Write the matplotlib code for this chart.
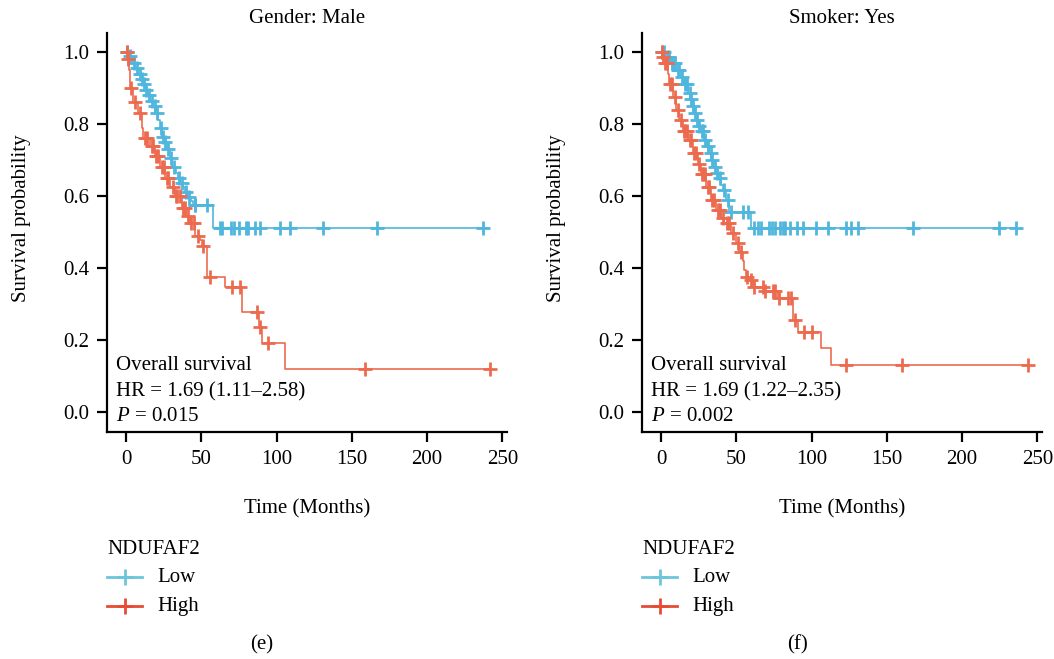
import numpy as np
import matplotlib
matplotlib.use("Agg")
import matplotlib.pyplot as plt
from matplotlib.lines import Line2D

plt.rcParams['font.family'] = ['Liberation Serif', 'DejaVu Serif']
plt.rcParams['mathtext.fontset'] = 'custom'
plt.rcParams['mathtext.rm'] = 'Liberation Serif'
plt.rcParams['mathtext.it'] = 'Liberation Serif:italic'

BLUE = '#4FB6DE'
RED = '#EC6B4F'
LEG_BLUE = '#6CC5DC'
LEG_RED = '#E64B35'

# ---------------- Panel (e): Gender: Male ----------------
e_low_t = [0, 2, 4, 6, 8, 10, 11.5, 13, 14.6, 16, 18, 19.5, 21.3, 22.5, 24, 25.5, 27, 29,
           30.5, 33, 34.6, 36, 38, 39.5, 41, 43, 44.5, 58]
e_low_s = [1.0, 0.99, 0.97, 0.955, 0.94, 0.925, 0.91, 0.895, 0.88, 0.865, 0.85, 0.83, 0.81,
           0.79, 0.765, 0.75, 0.73, 0.705, 0.68, 0.665, 0.65, 0.635, 0.625, 0.61, 0.597,
           0.585, 0.575, 0.51]
e_low_end = 240
e_low_cens = [1, 3, 5, 7, 9, 10.5, 12, 13.5, 15, 17, 19, 20.5, 23, 24.5, 26, 28, 30, 32,
              35, 37, 40, 42, 45.5, 46, 54, 62.5, 64, 69.8, 71.8, 75, 79.8, 81, 86, 89,
              102, 109, 131, 167, 237]

e_high_t = [0, 1, 2, 2.7, 4.8, 8, 10.6, 11.5, 16, 19, 22.6, 26, 29, 32.6, 37, 40, 42.5, 46,
            49, 50.5, 54, 66, 77, 88, 90, 105.7]
e_high_s = [1.0, 0.98, 0.95, 0.90, 0.86, 0.83, 0.79, 0.76, 0.74, 0.71, 0.68, 0.65, 0.625,
            0.60, 0.566, 0.545, 0.525, 0.49, 0.478, 0.46, 0.375, 0.348, 0.278, 0.237, 0.19,
            0.12]
e_high_end = 242
e_high_cens = [0.5, 1.5, 3.5, 6, 9, 12.5, 14, 17, 18, 20, 21, 24, 25, 27, 28, 31, 33, 34,
               36, 38, 39, 41, 43.5, 45, 47.5, 51, 56, 70.5, 76, 87, 89, 94, 159, 242]

# ---------------- Panel (f): Smoker: Yes ----------------
f_low_t = [0, 3, 6.6, 10, 13.3, 15.5, 18, 19.5, 21, 22, 23.3, 25, 26.6, 28.6, 30.3, 32,
           33.5, 35, 37, 38.6, 40, 41, 43, 45, 60]
f_low_s = [1.0, 0.985, 0.97, 0.95, 0.93, 0.91, 0.886, 0.87, 0.85, 0.83, 0.81, 0.795, 0.78,
           0.755, 0.74, 0.72, 0.70, 0.68, 0.665, 0.65, 0.63, 0.617, 0.59, 0.556, 0.51]
f_low_end = 236
f_low_cens = [1, 2, 4, 5, 7, 8, 9, 11, 12, 14, 16, 17, 19, 20, 21.5, 22.5, 24, 25.5, 27, 28,
              29.5, 31, 33, 34, 36, 37.5, 39.5, 42, 44.5, 46.5, 54.5, 58, 62, 64.5, 66.5,
              72, 74, 76, 79, 81, 82.4, 86, 90.4, 94, 102.7, 110.6, 122.6, 126, 130.6,
              167.5, 224.7, 236]

f_high_t = [0, 1, 2, 4.6, 5.3, 8, 10, 12, 14.6, 18, 21, 24.6, 26.6, 30, 33, 36.6, 40, 42,
            46.5, 50, 52, 54.5, 55.3, 56.5, 58.5, 61, 68.5, 78, 87.7, 91, 106, 113]
f_high_s = [1.0, 0.985, 0.97, 0.94, 0.91, 0.875, 0.84, 0.81, 0.78, 0.755, 0.72, 0.69, 0.66,
            0.625, 0.59, 0.56, 0.54, 0.525, 0.497, 0.47, 0.445, 0.42, 0.395, 0.375, 0.366,
            0.348, 0.335, 0.317, 0.255, 0.223, 0.178, 0.13]
f_high_end = 244
f_high_cens = [0.5, 1.5, 3, 4, 6, 7, 9, 11, 13, 15, 16, 17, 19, 20, 22, 23, 25, 27, 28, 29,
               31, 32, 34, 35, 38, 39, 41, 44, 45, 48, 51, 53, 57, 60, 62, 68, 69, 74.5,
               75.5, 78.5, 84.5, 86.5, 89, 95, 100, 123, 160, 244]

panels = [
    dict(title='Gender: Male', label='(e)', hr='HR = 1.69 (1.11\u20132.58)', p='0.015',
         left=107, low=(e_low_t, e_low_s, e_low_end, e_low_cens),
         high=(e_high_t, e_high_s, e_high_end, e_high_cens)),
    dict(title='Smoker: Yes', label='(f)', hr='HR = 1.69 (1.22\u20132.35)', p='0.002',
         left=642, low=(f_low_t, f_low_s, f_low_end, f_low_cens),
         high=(f_high_t, f_high_s, f_high_end, f_high_cens)),
]

W, H = 1054, 659
fig = plt.figure(figsize=(W / 100, H / 100), dpi=100)
FS = 15


def draw_km(ax, data, color):
    t, s, end, cens = data
    t = np.asarray(t, float)
    s = np.asarray(s, float)
    tt = np.append(t, end)
    ss = np.append(s, s[-1])
    ax.step(tt, ss, where='post', color=color, lw=1.2, zorder=2)
    c = np.asarray(cens, float)
    idx = np.searchsorted(t, c, side='right') - 1
    ax.plot(c, s[idx], linestyle='none', marker='+', ms=10, mew=2.0, color=color,
            zorder=3)


for p in panels:
    left_px = p['left']
    ax = fig.add_axes([left_px / W, 1 - 432 / H, 400 / W, 399 / H])
    draw_km(ax, p['low'], BLUE)
    draw_km(ax, p['high'], RED)
    ax.set_xlim(-12.6, 253)
    ax.set_ylim(-0.056, 1.053)
    ax.set_xticks([0, 50, 100, 150, 200, 250])
    ax.set_yticks([0.0, 0.2, 0.4, 0.6, 0.8, 1.0])
    ax.set_yticklabels(['0.0', '0.2', '0.4', '0.6', '0.8', '1.0'])
    for sp in ['top', 'right']:
        ax.spines[sp].set_visible(False)
    for sp in ['left', 'bottom']:
        ax.spines[sp].set_linewidth(1.6)
    ax.tick_params(axis='both', length=7, width=1.6, labelsize=FS, direction='out')
    ax.tick_params(axis='x', pad=6)
    ax.tick_params(axis='y', pad=6)
    ax.set_title(p['title'], fontsize=FS, pad=7)
    ax.set_ylabel('Survival probability', fontsize=FS)
    ax.yaxis.set_label_coords(-0.19, 0.536)
    ax.set_xlabel('Time (Months)', fontsize=FS)
    ax.xaxis.set_label_coords(0.5, -0.168)
    ax.text(-6.6, 0.13, 'Overall survival', fontsize=FS, va='center', ha='left')
    ax.text(-6.6, 0.056, p['hr'], fontsize=FS, va='center', ha='left')
    ax.text(-6.6, -0.014, r'$\it{P}$ = ' + p['p'], fontsize=FS, va='center', ha='left')

    # Legend (manual)
    fig.text(left_px / W, 1 - 549 / H, 'NDUFAF2', fontsize=FS, ha='left', va='center')
    for yy, col, lab in [(577, LEG_BLUE, 'Low'), (606, LEG_RED, 'High')]:
        y = 1 - yy / H
        fig.add_artist(Line2D([left_px / W, (left_px + 35) / W], [y, y],
                              transform=fig.transFigure, color=col, lw=2.0))
        fig.add_artist(Line2D([(left_px + 17.5) / W], [y], transform=fig.transFigure,
                              color=col, marker='+', ms=11, mew=2.0, linestyle='none'))
        fig.text((left_px + 50) / W, y, lab, fontsize=FS, ha='left', va='center')
    fig.text((left_px + 155) / W, 1 - 645 / H, p['label'], fontsize=FS, ha='center',
             va='center')

fig.savefig('out.png', dpi=100)
